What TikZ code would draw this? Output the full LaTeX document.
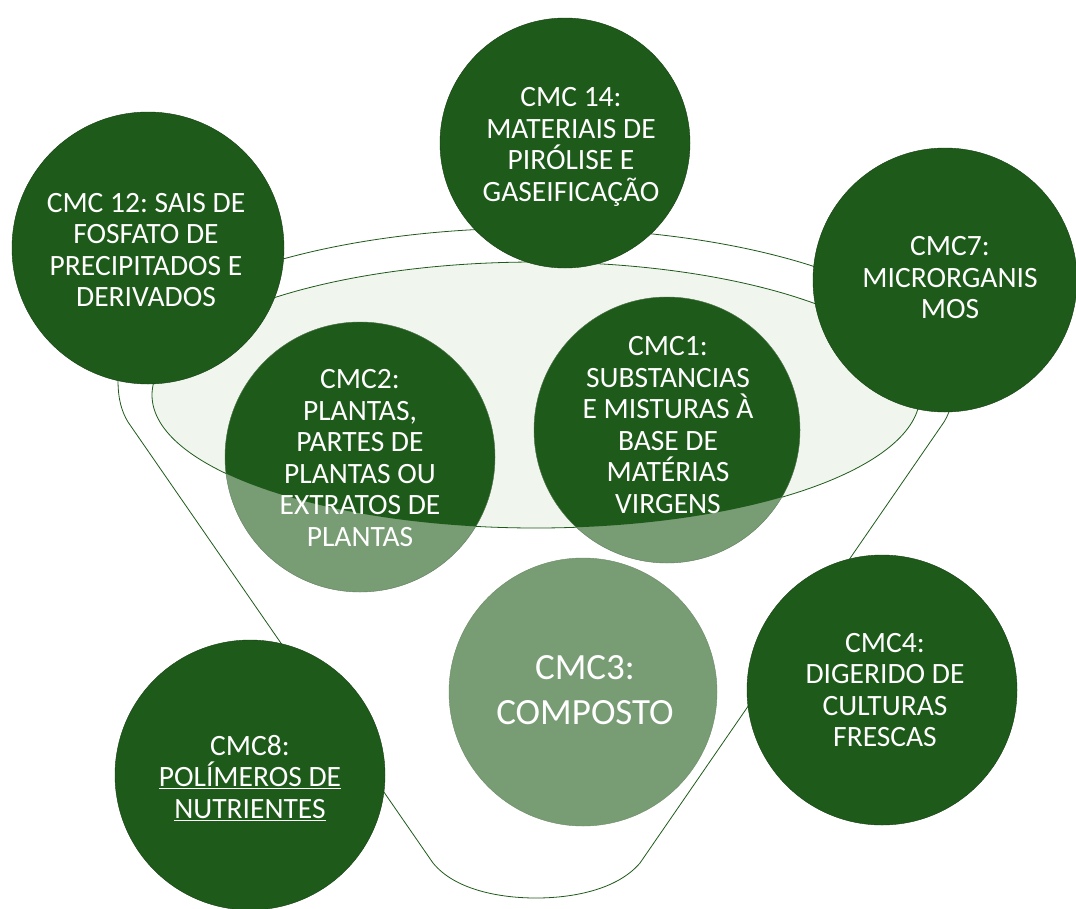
\documentclass[tikz,border=0pt]{standalone}
\usepackage{fontspec}
\setmainfont{Carlito}
\frenchspacing
\definecolor{dg}{RGB}{30,90,26}
\definecolor{lg}{RGB}{120,156,116}
\definecolor{ef}{RGB}{240,246,238}
\begin{document}
\begin{tikzpicture}[x=1pt,y=-1pt,
  ring/.style={circle, inner sep=0pt, draw=dg!70!black, line width=0.4pt},
  lbl/.style={text=white, align=center, inner sep=0pt, font=\fontsize{29.5}{31.5}\selectfont},
  big/.style={text=white, align=center, inner sep=0pt, font=\fontsize{37}{45}\selectfont},
  funnel/.style={draw=dg, line width=0.8pt}]
\useasboundingbox (0,0) rectangle (1076,908);
% funnel outline
\draw[funnel] (118,380) .. controls (118,400) and (122,412) .. (128,422) -- (433,863)
  .. controls (455,890) and (500,898) .. (536,898)
  .. controls (572,898) and (617,890) .. (640,863) -- (944,422)
  .. controls (950,412) and (954,400) .. (954,380);
\draw[funnel] (118,380) arc[start angle=180, end angle=0, x radius=418pt, y radius=152pt];
\draw[funnel, fill=ef] (536,395) ellipse (384pt and 133pt);
% circles inside the funnel
\fill[lg] (360,457) circle (135pt);
\fill[lg] (667,430) circle (133pt);
\begin{scope}
  \clip (536,395) ellipse (384pt and 133pt);
  \fill[dg] (360,457) circle (135pt);
  \fill[dg] (667,430) circle (133pt);
\end{scope}
\node[ring, minimum size=270pt, draw=lg!80!black] (c2) at (360,457) {};
\node[ring, minimum size=266pt, draw=lg!80!black] (c1) at (667,430) {};
\node[ring, minimum size=268pt, fill=lg, draw=lg!90!black] (c3) at (583,692) {};
% circles on the rim
\node[ring, minimum size=250pt, fill=dg] (c14) at (565,143) {};
\node[ring, minimum size=272pt, fill=dg] (c12) at (148,248) {};
\node[ring, minimum size=264pt, fill=dg] (c7) at (945,280) {};
\node[ring, minimum size=270pt, fill=dg] (c4) at (882,690) {};
\node[ring, minimum size=270pt, fill=dg] (c8) at (250,775) {};
% labels
\node[lbl] (t14) at (571,147) {CMC 14:\\MATERIAIS DE\\PIRÓLISE E\\GASEIFICAÇÃO};
\node[lbl] (t12) at (146,250) {CMC 12: SAIS DE\\FOSFATO DE\\PRECIPITADOS E\\DERIVADOS};
\node[lbl] (t7) at (950,278) {CMC7:\\MICRORGANIS\\MOS};
\node[lbl] (t2) at (360,458) {CMC2:\\PLANTAS,\\PARTES DE\\PLANTAS OU\\EXTRATOS DE\\PLANTAS};
\node[lbl] (t1) at (668,425) {CMC1:\\SUBSTANCIAS\\E MISTURAS À\\BASE DE\\MATÉRIAS\\VIRGENS};
\node[big] (t3) at (585,690) {CMC3:\\COMPOSTO};
\node[lbl] (t4) at (885,690) {CMC4:\\DIGERIDO DE\\CULTURAS\\FRESCAS};
\node[lbl] (t8) at (250,778) {CMC8:\\\underline{POLÍMEROS DE}\\\underline{NUTRIENTES}};
\end{tikzpicture}
\end{document}
